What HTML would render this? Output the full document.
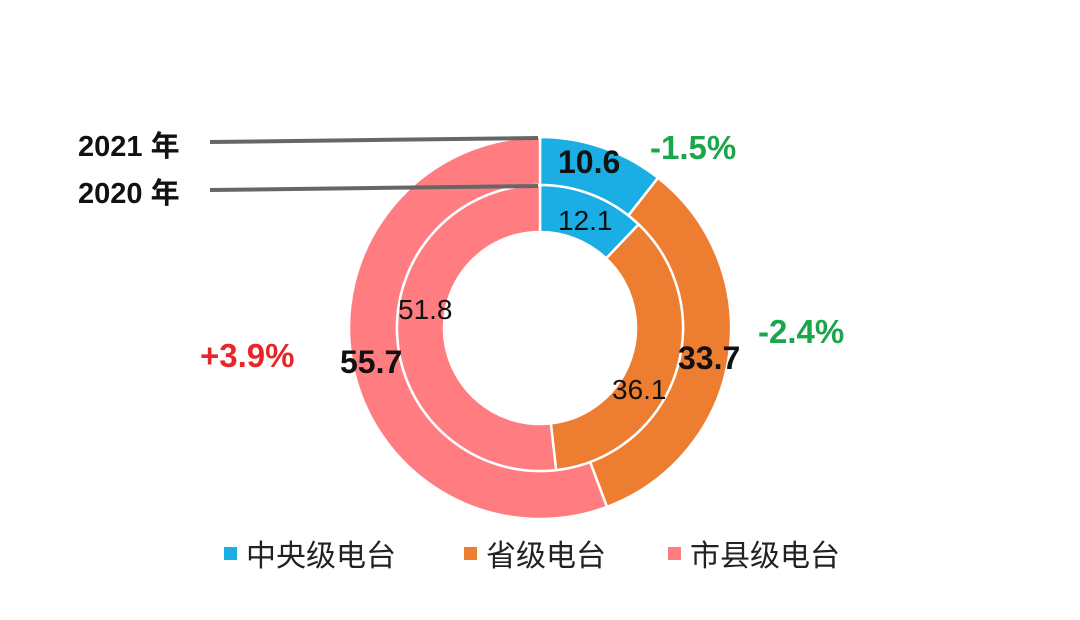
<!DOCTYPE html>
<html><head><meta charset="utf-8"><style>
body{margin:0;background:#fff;}
svg{display:block}
text{font-family:"Liberation Sans","Noto Sans CJK SC",sans-serif}
</style></head><body>
<svg id="s" width="1080" height="620" viewBox="0 0 1080 620">
<g id="arcs"></g>
<line x1="210" y1="142" x2="538" y2="138" stroke="#666" stroke-width="4"/>
<line x1="210" y1="190" x2="538" y2="186" stroke="#666" stroke-width="4"/>
<text x="78" y="156" font-size="29" font-weight="bold" fill="#111">2021 年</text>
<text x="78" y="203" font-size="29" font-weight="bold" fill="#111">2020 年</text>
<text x="558" y="173" font-size="32" font-weight="bold" fill="#111">10.6</text>
<text x="558" y="230" font-size="28" fill="#111">12.1</text>
<text x="678" y="369" font-size="32" font-weight="bold" fill="#111">33.7</text>
<text x="612" y="399" font-size="28" fill="#111">36.1</text>
<text x="398" y="319" font-size="28" fill="#111">51.8</text>
<text x="340" y="373" font-size="32" font-weight="bold" fill="#111">55.7</text>
<text x="650" y="159" font-size="33" font-weight="bold" fill="#1aa64b">-1.5%</text>
<text x="758" y="343" font-size="33" font-weight="bold" fill="#1aa64b">-2.4%</text>
<text x="200" y="367" font-size="33" font-weight="bold" fill="#e8262a">+3.9%</text>
<rect x="224" y="547" width="13" height="13" fill="#1aaee5"/>
<text x="246" y="566" font-size="30" fill="#222">中央级电台</text>
<rect x="464" y="547" width="13" height="13" fill="#ed7d31"/>
<text x="486" y="566" font-size="30" fill="#222">省级电台</text>
<rect x="668" y="547" width="13" height="13" fill="#ff7c80"/>
<text x="690" y="566" font-size="30" fill="#222">市县级电台</text>
</svg>
<script>
var cx=540,cy=328,g=document.getElementById('arcs');
var cols=['#1aaee5','#ed7d31','#ff7c80'];
function ring(vals,r1,r2){var a=0;vals.forEach(function(v,i){var a0=a*2*Math.PI/100,a1=(a+v)*2*Math.PI/100;a+=v;
function p(r,t){return [cx+r*Math.sin(t),cy-r*Math.cos(t)];}
var l=(a1-a0)>Math.PI?1:0,A=p(r2,a0),B=p(r2,a1),C=p(r1,a1),D=p(r1,a0);
var d='M'+A+' A'+r2+','+r2+' 0 '+l+' 1 '+B+' L'+C+' A'+r1+','+r1+' 0 '+l+' 0 '+D+' Z';
var e=document.createElementNS('http://www.w3.org/2000/svg','path');e.setAttribute('d',d);e.setAttribute('fill',cols[i]);e.setAttribute('stroke','#fff');e.setAttribute('stroke-width','2.5');g.appendChild(e);});}
ring([10.6,33.7,55.7],143,191);
ring([12.1,36.1,51.8],96,143);
</script>
</body></html>
